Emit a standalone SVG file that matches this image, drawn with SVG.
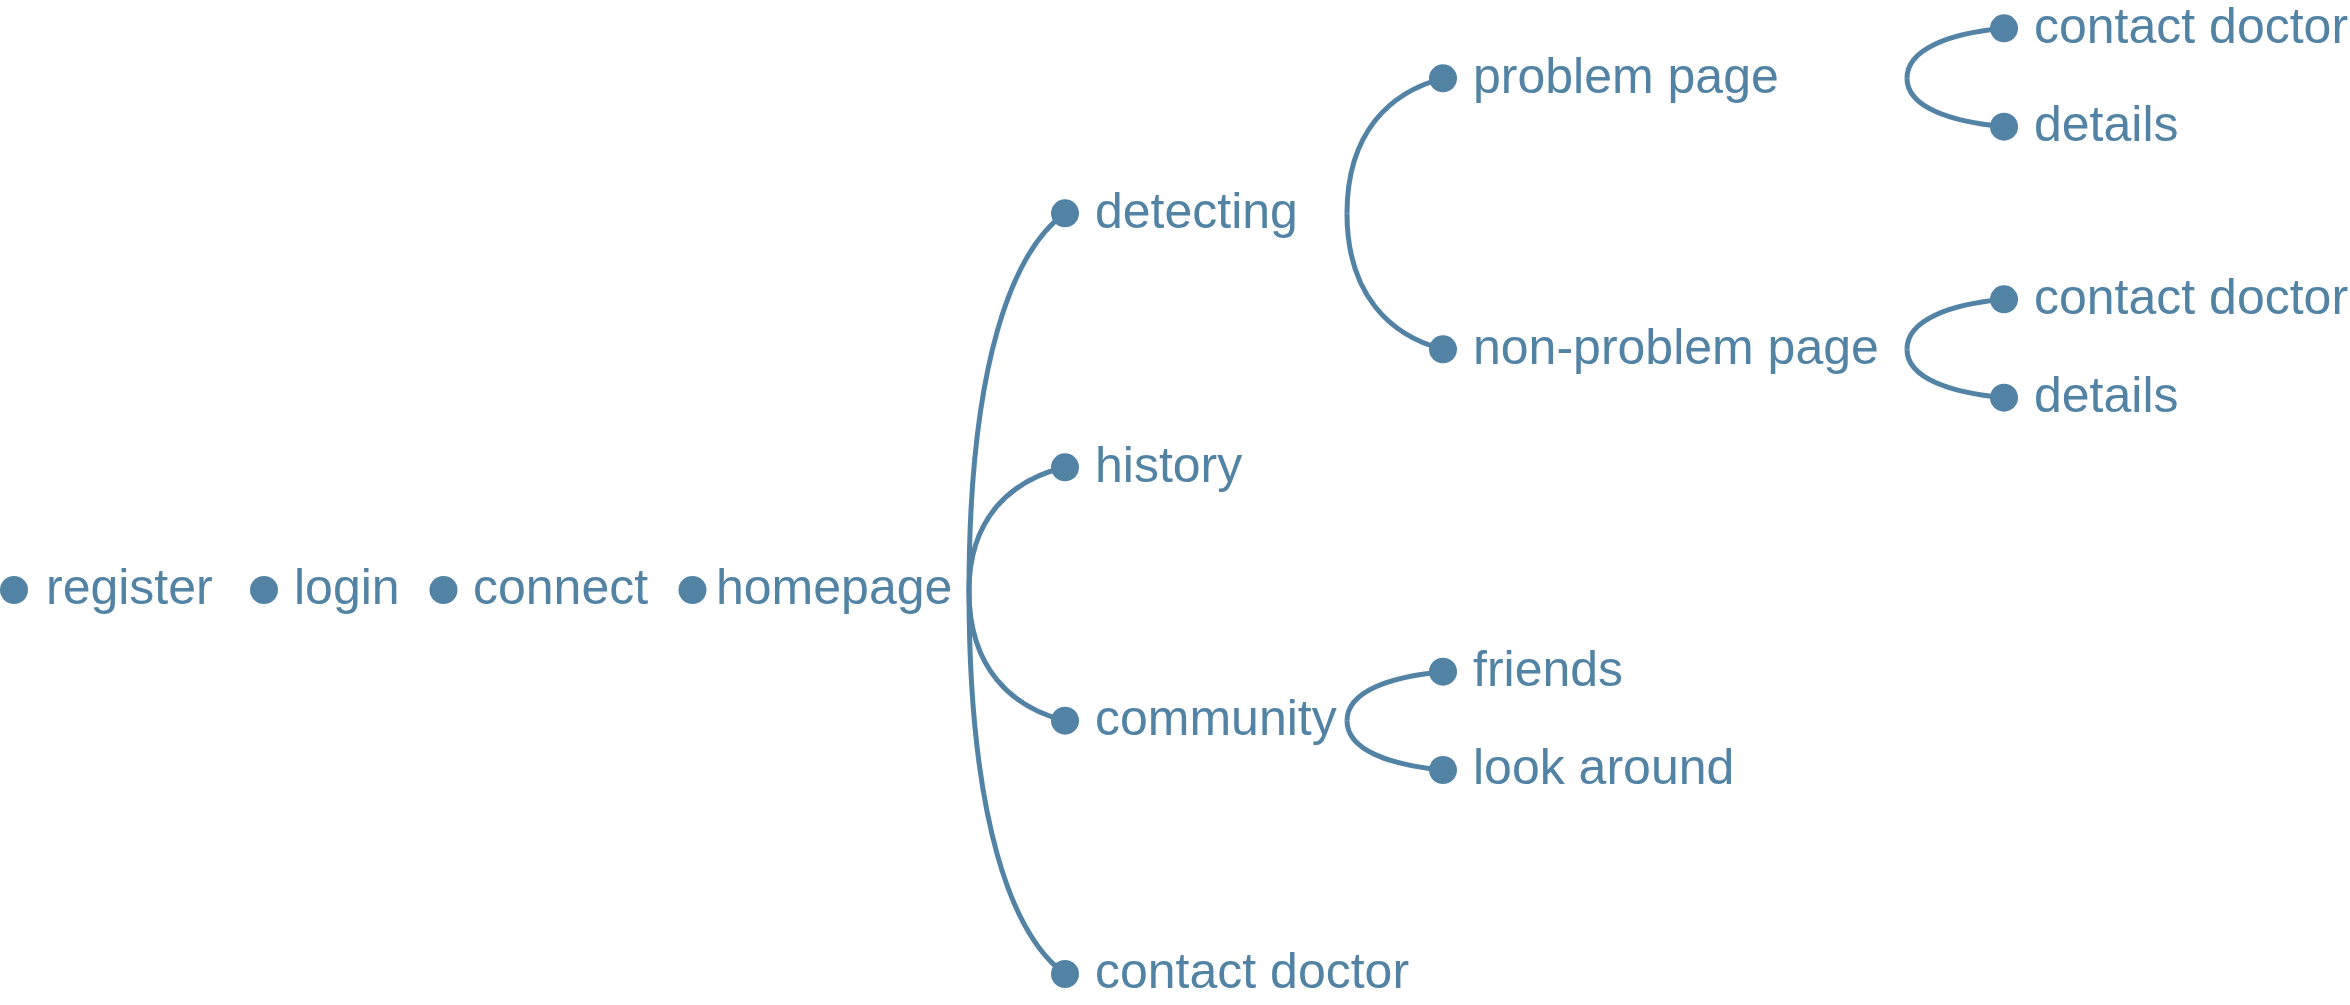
<svg xmlns="http://www.w3.org/2000/svg" width="2350" height="1005" viewBox="0 0 2350 1005">
<style>
.dot{fill:#5283a5}
.lbl{font-family:"Liberation Sans",Arial,sans-serif;font-size:50px;fill:#5283a5}
.edge{fill:none;stroke:#5283a5;stroke-width:5}
</style>
<rect width="2350" height="1005" fill="#ffffff"/>
<g id="connectors">
<path class="edge" d="M969,591 C969,364.4 1012.2,251.1 1065,213.3"/>
<path class="edge" d="M969,591 C969,516.8 1012.2,479.7 1065,467.3"/>
<path class="edge" d="M969,591 C969,668.8 1012.2,707.7 1065,720.7"/>
<path class="edge" d="M969,591 C969,820.8 1012.2,935.7 1065,974"/>
<path class="edge" d="M1347,213.3 C1347,132.3 1390.2,91.8 1443,78.3"/>
<path class="edge" d="M1347,213.3 C1347,294.9 1390.2,335.7 1443,349.3"/>
<path class="edge" d="M1347,720.7 C1347,691.3 1390.2,676.6 1443,671.7"/>
<path class="edge" d="M1347,720.7 C1347,750.3 1390.2,765.1 1443,770"/>
<path class="edge" d="M1907,78.3 C1907,48.3 1950.7,33.3 2004,28.3"/>
<path class="edge" d="M1907,78.3 C1907,107.3 1950.7,121.9 2004,126.7"/>
<path class="edge" d="M1907,349.3 C1907,319.3 1950.7,304.3 2004,299.3"/>
<path class="edge" d="M1907,349.3 C1907,378.3 1950.7,392.9 2004,397.7"/>
</g>
<g id="node-register"><circle class="dot" cx="14" cy="590" r="14"/><text class="lbl" x="46" y="604">register</text></g>
<g id="node-login"><circle class="dot" cx="264" cy="590" r="14"/><text class="lbl" x="294" y="604">login</text></g>
<g id="node-connect"><circle class="dot" cx="443.5" cy="590" r="14"/><text class="lbl" x="473" y="604">connect</text></g>
<g id="node-homepage"><circle class="dot" cx="692.5" cy="590" r="14"/><text class="lbl" x="716" y="604">homepage</text></g>
<g id="node-detecting"><circle class="dot" cx="1065" cy="213.3" r="14"/><text class="lbl" x="1095" y="227.5">detecting</text></g>
<g id="node-history"><circle class="dot" cx="1065" cy="467.3" r="14"/><text class="lbl" x="1095" y="481.5">history</text></g>
<g id="node-community"><circle class="dot" cx="1065" cy="720.7" r="14"/><text class="lbl" x="1095" y="735">community</text></g>
<g id="node-contact-doctor-1"><circle class="dot" cx="1065" cy="974" r="14"/><text class="lbl" x="1095" y="988">contact doctor</text></g>
<g id="node-problem-page"><circle class="dot" cx="1443" cy="78.3" r="14"/><text class="lbl" x="1473" y="92.5">problem page</text></g>
<g id="node-non-problem-page"><circle class="dot" cx="1443" cy="349.3" r="14"/><text class="lbl" x="1473" y="363.5">non-problem page</text></g>
<g id="node-friends"><circle class="dot" cx="1443" cy="671.7" r="14"/><text class="lbl" x="1473" y="686">friends</text></g>
<g id="node-look-around"><circle class="dot" cx="1443" cy="770" r="14"/><text class="lbl" x="1473" y="784">look around</text></g>
<g id="node-contact-doctor-2"><circle class="dot" cx="2004" cy="28.3" r="14"/><text class="lbl" x="2034" y="42.5">contact doctor</text></g>
<g id="node-details-1"><circle class="dot" cx="2004" cy="126.7" r="14"/><text class="lbl" x="2034" y="141">details</text></g>
<g id="node-contact-doctor-3"><circle class="dot" cx="2004" cy="299.3" r="14"/><text class="lbl" x="2034" y="313.5">contact doctor</text></g>
<g id="node-details-2"><circle class="dot" cx="2004" cy="397.7" r="14"/><text class="lbl" x="2034" y="412">details</text></g>
</svg>
